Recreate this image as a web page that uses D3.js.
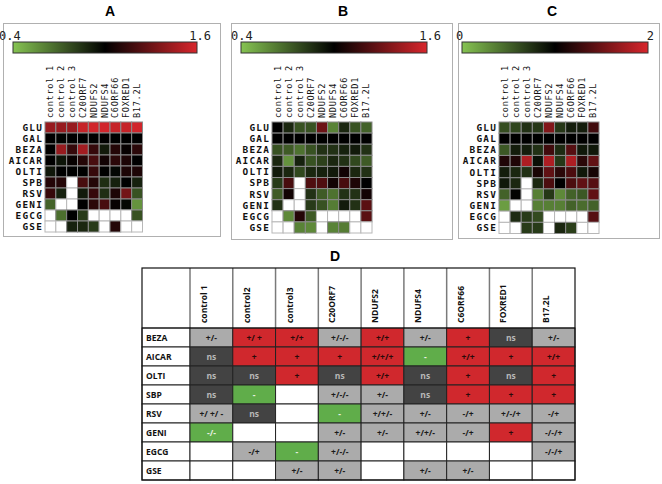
<!DOCTYPE html>
<html><head><meta charset="utf-8">
<script src="https://cdn.jsdelivr.net/npm/d3@7"></script>
<style>body{margin:0;background:#fff}svg{display:block}</style>
</head><body><svg id="c" width="662" height="484"></svg>
<script>
// ---------- DATA ----------
const heatCols = ["control 1","control 2","control 3","C20ORF7","NDUFS2","NDUFS4","C6ORF66","FOXRED1","B17.2L"];
const heatRows = ["GLU","GAL","BEZA","AICAR","OLTI","SPB","RSV","GENI","EGCG","GSE"];
const valuesA = [
  [1.42,1.42,1.42,1.55,1.58,1.58,1.55,1.55,1.58],
  [1.00,0.99,1.00,1.00,1.00,1.00,1.00,1.00,1.00],
  [1.00,1.42,1.15,1.45,1.15,0.92,1.10,1.02,1.12],
  [1.00,0.94,1.02,1.10,1.20,1.05,1.12,1.08,1.00],
  [0.93,1.00,1.00,1.00,1.15,1.00,0.98,1.08,1.08],
  [1.10,1.10,null,1.20,1.10,0.86,0.90,1.00,0.90],
  [1.15,0.90,null,0.92,1.15,0.86,1.08,1.32,0.75],
  [0.70,null,null,1.00,1.12,1.20,1.02,0.98,0.55],
  [null,0.66,1.00,0.82,null,null,null,null,0.75],
  [null,null,0.90,0.88,0.82,null,1.10,null,null]
];
const valuesB = [
  [1.00,0.88,0.75,0.75,1.30,0.60,0.88,0.75,0.70],
  [1.00,1.00,1.00,1.00,1.00,1.00,1.00,1.00,1.00],
  [0.75,0.72,0.65,0.75,0.85,0.85,0.90,0.92,0.85],
  [0.88,0.55,0.90,0.75,0.80,0.88,0.85,0.78,0.72],
  [0.92,0.88,0.78,0.88,0.90,0.92,1.05,0.88,0.85],
  [0.82,1.20,null,1.22,1.22,1.05,1.20,1.08,1.00],
  [0.72,1.05,null,0.85,0.72,0.65,0.85,0.85,1.05],
  [0.85,null,null,0.82,0.75,0.62,0.92,0.85,1.25],
  [null,0.58,1.10,0.72,null,null,null,null,1.25],
  [null,null,0.60,0.58,null,0.60,0.62,null,null]
];
const valuesC = [
  [0.60,0.65,0.75,0.72,1.60,0.72,0.85,0.85,1.30],
  [1.00,1.00,1.00,1.00,1.00,1.00,1.00,1.00,1.00],
  [0.55,0.85,0.85,0.75,1.30,0.78,1.40,0.88,0.88],
  [1.15,1.15,1.80,0.92,1.80,0.72,1.80,1.20,1.45],
  [0.85,0.80,0.75,1.12,1.45,1.20,1.35,0.88,1.10],
  [0.88,0.80,null,0.80,1.35,1.00,1.35,1.45,1.40],
  [0.50,0.98,null,0.35,0.72,0.30,0.50,0.55,1.45],
  [0.20,null,null,0.35,0.35,0.35,0.50,0.45,0.50],
  [null,0.78,0.70,0.62,null,null,null,null,1.40],
  [null,null,0.70,0.70,null,0.80,0.68,null,null]
];
const domainA = [0.4, 1.0, 1.6];
const domainB = [0.4, 1.0, 1.6];
const domainC = [0, 1, 2];
const tickLabelsA = ["0.4","1.6"];
const tickLabelsB = ["0.4","1.6"];
const tickLabelsC = ["0","2"];

const tableCols = ["control 1","control2","control3","C20ORF7","NDUFS2","NDUFS4","C6ORF66","FOXRED1","B17.2L"];
const tableRows = ["BEZA","AICAR","OLTI","SBP","RSV","GENI","EGCG","GSE"];
const tableText = [
  ["+/-","+/ +","+/+","+/-/-","+/+","+/-","+","ns","+/-"],
  ["ns","+","+","+","+/+/+","-","+/+","+","+/+"],
  ["ns","ns","+","ns","+/+","ns","+","ns","+"],
  ["ns","-","","+/-/-","+/-","ns","+","+","+"],
  ["+/ +/ -","ns","","-","+/+/-","+/-","-/+","+/-/+","-/+"],
  ["-/-","","","+/-","+/-","+/+/-","-/+","+","-/-/+"],
  ["","-/+","-","+/-/-","","","","","-/-/+"],
  ["","","+/-","+/-","","+/-","+/-","",""]
];
// r = increase (red), g = decrease (green), d = not significant (dark), l = mixed (light grey), w = none
const tableEffect = [
  ["l","r","r","l","r","l","r","d","l"],
  ["d","r","r","r","r","g","r","r","r"],
  ["d","d","r","d","r","d","r","d","r"],
  ["d","g","w","l","l","d","r","r","r"],
  ["l","d","w","g","l","l","l","l","l"],
  ["g","w","w","l","l","l","l","r","l"],
  ["w","l","g","l","w","w","w","w","l"],
  ["w","w","l","l","w","l","l","w","w"]
];

// ---------- DRAW ----------
const svg = d3.select("#c");
const defs = svg.append("defs");
const GREEN = "#86c452", BLACK = "#000000", RED = "#d8262c";

function heatPanel(o) {
  const g = svg.append("g");
  g.append("rect").attr("x", o.box[0]+0.5).attr("y", o.box[1]+0.5)
    .attr("width", o.box[2]-o.box[0]).attr("height", o.box[3]-o.box[1])
    .attr("fill", "none").attr("stroke", "#b0b0b0").attr("stroke-width", 1);
  g.append("text").attr("x", o.titleX).attr("y", 16).attr("text-anchor", "middle")
    .attr("font-family", "Liberation Sans, Arial, sans-serif").attr("font-weight", "bold")
    .attr("font-size", 14).text(o.title);

  const color = d3.scaleLinear().domain(o.domain).range([GREEN, BLACK, RED]).clamp(true);
  const gid = "grad" + o.title;
  const grad = defs.append("linearGradient").attr("id", gid);
  const cb = d3.scaleLinear().domain([0, 20]).range([o.domain[0], o.domain[2]]);
  d3.range(21).forEach(i => grad.append("stop").attr("offset", (i/20*100)+"%").attr("stop-color", color(cb(i))));
  g.append("rect").attr("x", o.cbar[0]).attr("y", 42).attr("width", o.cbar[1]-o.cbar[0]).attr("height", 11)
    .attr("fill", `url(#${gid})`).attr("stroke", "#333").attr("stroke-width", 1);
  g.append("text").attr("x", o.tickX[0]).attr("y", 40).attr("font-family", "DejaVu Sans Mono, monospace")
    .attr("font-size", 12).attr("fill", "#222").text(o.ticks[0]);
  g.append("text").attr("x", o.tickX[1]).attr("y", 40).attr("text-anchor", "end")
    .attr("font-family", "DejaVu Sans Mono, monospace").attr("font-size", 12).attr("fill", "#222").text(o.ticks[1]);

  const x = d3.scaleBand().domain(heatCols).range([o.grid[0], o.grid[1]]);
  const y = d3.scaleBand().domain(heatRows).range([o.grid[2], o.grid[3]]);

  g.selectAll("text.col").data(heatCols).join("text").attr("class", "col")
    .attr("transform", d => `translate(${x(d)+x.bandwidth()/2+3},118) rotate(-90)`)
    .attr("font-family", "DejaVu Sans Mono, monospace").attr("font-size", 8.6)
    .attr("letter-spacing", 0.7).attr("fill", "#111")
    .text(d => d);
  g.selectAll("text.row").data(heatRows).join("text").attr("class", "row")
    .attr("x", o.grid[0]-2).attr("y", d => y(d)+y.bandwidth()/2+3.4).attr("text-anchor", "end")
    .attr("font-family", "DejaVu Sans Mono, monospace").attr("font-weight", "bold").attr("font-size", 9.4)
    .attr("letter-spacing", 1.2).attr("fill", "#111").text(d => d);

  const cells = [];
  o.values.forEach((row, i) => row.forEach((v, j) => cells.push({r: heatRows[i], c: heatCols[j], v})));
  g.selectAll("rect.cell").data(cells).join("rect").attr("class", "cell")
    .attr("x", d => x(d.c)).attr("y", d => y(d.r))
    .attr("width", x.bandwidth()).attr("height", y.bandwidth())
    .attr("fill", d => d.v == null ? "#ffffff" : color(d.v))
    .attr("stroke", d => d.v == null ? "#b8b8b8" : "#8a8a8a").attr("stroke-width", 1);
}

heatPanel({title: "A", titleX: 110, box: [3, 23, 220, 236], cbar: [13, 197], tickX: [-1, 211],
  ticks: tickLabelsA, domain: domainA, values: valuesA, grid: [45, 142.5, 122, 232]});
heatPanel({title: "B", titleX: 343, box: [231, 23, 452, 239], cbar: [241, 427], tickX: [231, 441],
  ticks: tickLabelsB, domain: domainB, values: valuesB, grid: [272, 372, 122, 233]});
heatPanel({title: "C", titleX: 552, box: [458, 23, 659, 238], cbar: [462, 648], tickX: [456, 654],
  ticks: tickLabelsC, domain: domainC, values: valuesC, grid: [499, 599, 122, 233.5]});

// ---------- TABLE D ----------
const T = svg.append("g");
T.append("text").attr("x", 335).attr("y", 261).attr("text-anchor", "middle")
  .attr("font-family", "Liberation Sans, Arial, sans-serif").attr("font-weight", "bold")
  .attr("font-size", 14).text("D");

const tLeft = 142, tLabelW = 48, tRight = 575, tTop = 268, tHead = 328, tBottom = 480;
const tx = d3.scaleBand().domain(tableCols).range([tLeft + tLabelW, tRight]);
const ty = d3.scaleBand().domain(tableRows).range([tHead, tBottom]);
const fill = {r: "#d0282d", g: "#60ad4a", d: "#434343", l: "#ababab", w: "#ffffff"};
const tcol = {r: "#2a0a0a", g: "#e8f0e0", d: "#b8b8b8", l: "#1a1a1a", w: "#000"};
const tfont = "Open Sans, Liberation Sans, sans-serif";

T.append("rect").attr("x", tLeft).attr("y", tTop).attr("width", tRight - tLeft).attr("height", tHead - tTop)
  .attr("fill", "#fff");
T.selectAll("line.hv").data(tableCols).join("line").attr("class", "hv")
  .attr("x1", d => tx(d)).attr("x2", d => tx(d)).attr("y1", tTop).attr("y2", tHead)
  .attr("stroke", "#7a7a7a").attr("stroke-width", 1.5);
T.selectAll("text.hd").data(tableCols).join("text").attr("class", "hd")
  .attr("transform", d => `translate(${tx(d)+17},323) rotate(-90)`)
  .attr("font-family", tfont).attr("font-weight", "bold").attr("font-size", 8.5).attr("fill", "#111")
  .text(d => d);

const tcells = [];
tableText.forEach((row, i) => row.forEach((t, j) => tcells.push({r: tableRows[i], c: tableCols[j], t, e: tableEffect[i][j]})));
T.selectAll("rect.rl").data(tableRows).join("rect").attr("class", "rl")
  .attr("x", tLeft).attr("y", d => ty(d)).attr("width", tLabelW).attr("height", ty.bandwidth())
  .attr("fill", "#fff").attr("stroke", "#222").attr("stroke-width", 1);
T.selectAll("text.rl").data(tableRows).join("text").attr("class", "rl")
  .attr("x", tLeft + 4).attr("y", d => ty(d) + ty.bandwidth()/2 + 3)
  .attr("font-family", tfont).attr("font-weight", "bold").attr("font-size", 8.5).attr("fill", "#111")
  .text(d => d);
T.selectAll("rect.tc").data(tcells).join("rect").attr("class", "tc")
  .attr("x", d => tx(d.c)).attr("y", d => ty(d.r)).attr("width", tx.bandwidth()).attr("height", ty.bandwidth())
  .attr("fill", d => fill[d.e]).attr("stroke", "#222").attr("stroke-width", 1);
T.selectAll("text.tc").data(tcells.filter(d => d.t)).join("text").attr("class", "tc")
  .attr("x", d => tx(d.c) + tx.bandwidth()/2).attr("y", d => ty(d.r) + ty.bandwidth()/2 + 3)
  .attr("text-anchor", "middle").attr("font-family", tfont).attr("font-weight", "bold").attr("font-size", 8.5)
  .attr("fill", d => tcol[d.e]).text(d => d.t);

T.append("rect").attr("x", tLeft).attr("y", tTop).attr("width", tRight - tLeft).attr("height", tBottom - tTop)
  .attr("fill", "none").attr("stroke", "#111").attr("stroke-width", 1.2);
T.append("line").attr("x1", tLeft).attr("x2", tRight).attr("y1", tHead).attr("y2", tHead)
  .attr("stroke", "#111").attr("stroke-width", 1.2);
</script>
</body></html>
